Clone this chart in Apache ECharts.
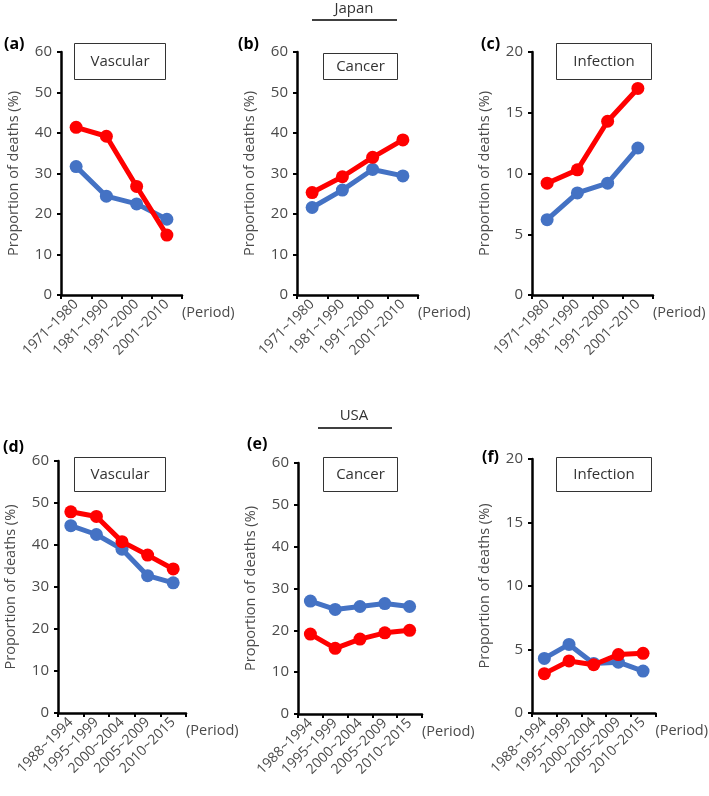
<!DOCTYPE html>
<html lang="en">
<head>
    <meta charset="UTF-8">
    <title>Proportion of deaths</title>
    <script src="https://cdn.jsdelivr.net/npm/echarts@6/dist/echarts.min.js"></script>
    <style>
        html, body { margin: 0; padding: 0; background: #fff; }
        #chart { width: 709px; height: 796px; }
    </style>
</head>
<body>
<div id="chart"></div>
<script>
    // periods
    const periodsJapan = ['1971~1980', '1981~1990', '1991~2000', '2001~2010'];
    const periodsUSA = ['1988~1994', '1995~1999', '2000~2004', '2005~2009', '2010~2015'];

    // Japan (%)
    const vascularJpRed = [41.4, 39.2, 26.8, 14.8];
    const vascularJpBlue = [31.7, 24.4, 22.5, 18.7];
    const cancerJpRed = [25.3, 29.2, 34.0, 38.3];
    const cancerJpBlue = [21.6, 25.9, 31.0, 29.4];
    const infectionJpRed = [9.2, 10.3, 14.3, 17.0];
    const infectionJpBlue = [6.2, 8.4, 9.2, 12.1];

    // USA (%)
    const vascularUsRed = [47.9, 46.8, 40.8, 37.6, 34.3];
    const vascularUsBlue = [44.6, 42.5, 39.0, 32.7, 31.0];
    const cancerUsRed = [19.1, 15.7, 17.9, 19.4, 20.0];
    const cancerUsBlue = [27.0, 25.0, 25.7, 26.4, 25.7];
    const infectionUsRed = [3.1, 4.1, 3.8, 4.6, 4.7];
    const infectionUsBlue = [4.3, 5.4, 3.9, 4.0, 3.3];

    const yMaxes = [60, 60, 20, 60, 60, 20];
    const yIntervals = [10, 10, 5, 10, 10, 5];

    const FONT = 'Open Sans';
    const RED = '#ff0000';
    const BLUE = '#4472c4';

    const panels = [
        {grid: {left: 61, top: 52, width: 121, height: 243}, cats: periodsJapan, red: vascularJpRed, blue: vascularJpBlue},
        {grid: {left: 297, top: 52, width: 121, height: 243}, cats: periodsJapan, red: cancerJpRed, blue: cancerJpBlue},
        {grid: {left: 532, top: 52, width: 121, height: 243}, cats: periodsJapan, red: infectionJpRed, blue: infectionJpBlue},
        {grid: {left: 58, top: 461, width: 128, height: 252}, cats: periodsUSA, red: vascularUsRed, blue: vascularUsBlue},
        {grid: {left: 298, top: 463, width: 124, height: 251}, cats: periodsUSA, red: cancerUsRed, blue: cancerUsBlue},
        {grid: {left: 532, top: 459, width: 127, height: 254}, cats: periodsUSA, red: infectionUsRed, blue: infectionUsBlue}
    ];

    const axisLine = {show: true, lineStyle: {color: '#000', width: 2.5}};
    const axisTick = {show: true, length: 4, lineStyle: {color: '#000', width: 2}};

    let grids = [], xAxes = [], yAxes = [], series = [];
    panels.forEach((p, i) => {
        grids.push(p.grid);
        xAxes.push({
            type: 'category', gridIndex: i, data: p.cats, boundaryGap: true,
            axisLine: axisLine, axisTick: axisTick,
            axisLabel: {rotate: 45, margin: 7, color: '#4a4a4a', fontFamily: FONT, fontSize: 14, interval: 0},
            name: '(Period)', nameLocation: 'end', nameGap: 0,
            nameTextStyle: {color: '#4a4a4a', fontFamily: FONT, fontSize: 14.5, verticalAlign: 'top', padding: [10, 0, 0, 0]}
        });
        yAxes.push({
            type: 'value', gridIndex: i, min: 0, max: yMaxes[i], interval: yIntervals[i],
            axisLine: axisLine, axisTick: axisTick, splitLine: {show: false},
            axisLabel: {margin: 9, color: '#4a4a4a', fontFamily: FONT, fontSize: 15},
            name: 'Proportion of deaths (%)', nameLocation: 'middle', nameGap: 40,
            nameTextStyle: {color: '#4a4a4a', fontFamily: FONT, fontSize: 14.5}
        });
        series.push({
            type: 'line', xAxisIndex: i, yAxisIndex: i, data: p.blue, z: 2,
            symbol: 'circle', symbolSize: 13,
            lineStyle: {color: BLUE, width: 5}, itemStyle: {color: BLUE}
        });
        series.push({
            type: 'line', xAxisIndex: i, yAxisIndex: i, data: p.red, z: 3,
            symbol: 'circle', symbolSize: 13,
            lineStyle: {color: RED, width: 5}, itemStyle: {color: RED}
        });
    });

    function panelTag(txt, x, y) {
        return {type: 'text', left: x, top: y,
            style: {text: txt, font: 'bold 16px "Open Sans"', fill: '#000'}};
    }
    function labelBox(txt, x, y, w, h) {
        return {type: 'group', left: x, top: y, children: [
            {type: 'rect', shape: {x: 0, y: 0, width: w, height: h},
                style: {fill: '#fff', stroke: '#333', lineWidth: 1}},
            {type: 'text', x: w / 2, y: h / 2,
                style: {text: txt, font: '15px "Open Sans"', fill: '#333', align: 'center', verticalAlign: 'middle'}}
        ]};
    }
    function country(txt, cx, y, x1, x2, ly) {
        return [
            {type: 'text', x: cx, y: y, style: {text: txt, font: '15px "Open Sans"', fill: '#333', align: 'center', verticalAlign: 'middle'}},
            {type: 'line', shape: {x1: x1, y1: ly, x2: x2, y2: ly}, style: {stroke: '#000', lineWidth: 1.5}}
        ];
    }

    const graphics = [
        panelTag('(a)', 4, 36), panelTag('(b)', 238, 36), panelTag('(c)', 481, 36),
        panelTag('(d)', 3, 439), panelTag('(e)', 247, 436), panelTag('(f)', 482, 449),
        labelBox('Vascular', 74, 43, 91, 36),
        labelBox('Cancer', 323, 53, 74, 26),
        labelBox('Infection', 556, 43, 95, 36),
        labelBox('Vascular', 74, 457, 91, 34),
        labelBox('Cancer', 323, 457, 74, 34),
        labelBox('Infection', 556, 457, 95, 34)
    ].concat(country('Japan', 354, 9, 312, 397, 20))
     .concat(country('USA', 354, 416, 318, 392, 428));

    let inst = echarts.init(document.getElementById('chart'));
    inst.setOption({
        animation: false,
        grid: grids,
        xAxis: xAxes,
        yAxis: yAxes,
        series: series,
        graphic: graphics
    });
</script>
</body>
</html>
